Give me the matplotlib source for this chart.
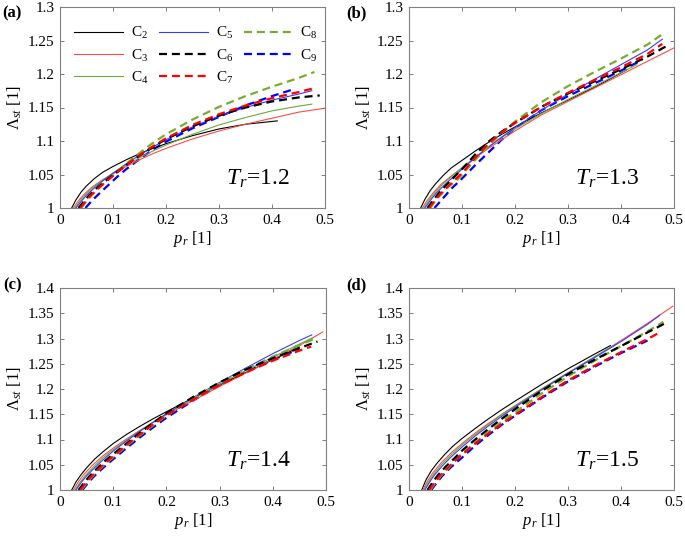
import numpy as np
import matplotlib
matplotlib.use('Agg')
import matplotlib.pyplot as plt
from matplotlib.ticker import FuncFormatter

plt.rcParams['font.family'] = ['Liberation Serif', 'DejaVu Serif']
plt.rcParams['mathtext.fontset'] = 'custom'
plt.rcParams['mathtext.rm'] = 'Liberation Serif'
plt.rcParams['mathtext.it'] = 'Liberation Serif:italic'

# ---- data: (p_r, Lambda_st) for each curve ----
names = ['C2', 'C3', 'C4', 'C5', 'C6', 'C7', 'C8', 'C9']
temps = ['1.2', '1.3', '1.4', '1.5']

# (a) Tr = 1.2
a_p = {
    'C2': [0.022, 0.03, 0.04, 0.05, 0.065, 0.08, 0.1, 0.125, 0.15, 0.175, 0.2, 0.25, 0.3, 0.35, 0.41],
    'C3': [0.025, 0.035, 0.045, 0.06, 0.08, 0.1, 0.125, 0.15, 0.175, 0.2, 0.25, 0.3, 0.35, 0.4, 0.45, 0.5],
    'C4': [0.028, 0.038, 0.048, 0.063, 0.08, 0.1, 0.125, 0.15, 0.175, 0.2, 0.25, 0.3, 0.35, 0.4, 0.45, 0.475],
    'C5': [0.03, 0.04, 0.05, 0.065, 0.08, 0.1, 0.125, 0.15, 0.175, 0.2, 0.25, 0.3, 0.35, 0.4, 0.45, 0.475],
    'C6': [0.035, 0.045, 0.055, 0.07, 0.085, 0.1, 0.125, 0.15, 0.175, 0.2, 0.25, 0.3, 0.35, 0.4, 0.45, 0.49],
    'C7': [0.038, 0.048, 0.058, 0.073, 0.088, 0.1, 0.125, 0.15, 0.175, 0.2, 0.25, 0.3, 0.35, 0.4, 0.45, 0.475],
    'C8': [0.04, 0.05, 0.06, 0.075, 0.09, 0.1, 0.125, 0.15, 0.175, 0.2, 0.25, 0.3, 0.35, 0.4, 0.45, 0.48],
    'C9': [0.048, 0.058, 0.068, 0.08, 0.095, 0.11, 0.125, 0.15, 0.175, 0.2, 0.25, 0.3, 0.35, 0.4, 0.44],
}
a_L = {
    'C2': [1.0, 1.012, 1.024, 1.033, 1.044, 1.053, 1.062, 1.072, 1.081, 1.089, 1.096, 1.108, 1.118, 1.125, 1.130],
    'C3': [1.0, 1.011, 1.020, 1.031, 1.042, 1.051, 1.062, 1.072, 1.081, 1.089, 1.103, 1.115, 1.125, 1.134, 1.143, 1.149],
    'C4': [1.0, 1.011, 1.020, 1.031, 1.041, 1.052, 1.064, 1.075, 1.085, 1.094, 1.110, 1.124, 1.135, 1.145, 1.152, 1.155],
    'C5': [1.0, 1.010, 1.019, 1.030, 1.040, 1.052, 1.066, 1.079, 1.091, 1.102, 1.121, 1.137, 1.150, 1.161, 1.170, 1.175],
    'C6': [1.0, 1.010, 1.019, 1.030, 1.040, 1.049, 1.064, 1.078, 1.091, 1.103, 1.122, 1.138, 1.150, 1.159, 1.165, 1.168],
    'C7': [1.0, 1.010, 1.019, 1.030, 1.040, 1.048, 1.064, 1.079, 1.092, 1.104, 1.124, 1.140, 1.153, 1.164, 1.173, 1.178],
    'C8': [1.0, 1.010, 1.019, 1.031, 1.042, 1.049, 1.066, 1.082, 1.097, 1.110, 1.132, 1.151, 1.167, 1.181, 1.194, 1.203],
    'C9': [1.0, 1.009, 1.017, 1.026, 1.037, 1.048, 1.058, 1.073, 1.087, 1.099, 1.119, 1.136, 1.153, 1.167, 1.177],
}

# (b) Tr = 1.3
b_p = {
    'C2': [0.022, 0.03, 0.04, 0.05, 0.065, 0.08, 0.1, 0.125, 0.15, 0.175, 0.2, 0.25, 0.3, 0.35, 0.41],
    'C3': [0.025, 0.035, 0.045, 0.06, 0.08, 0.1, 0.125, 0.15, 0.175, 0.2, 0.25, 0.3, 0.35, 0.4, 0.45, 0.5],
    'C4': [0.028, 0.038, 0.048, 0.063, 0.08, 0.1, 0.125, 0.15, 0.175, 0.2, 0.25, 0.3, 0.35, 0.43],
    'C5': [0.03, 0.04, 0.05, 0.065, 0.08, 0.1, 0.125, 0.15, 0.175, 0.2, 0.25, 0.3, 0.35, 0.4, 0.45, 0.478],
    'C6': [0.035, 0.045, 0.055, 0.07, 0.085, 0.1, 0.125, 0.15, 0.175, 0.2, 0.25, 0.3, 0.35, 0.4, 0.45, 0.489],
    'C7': [0.038, 0.048, 0.058, 0.073, 0.088, 0.1, 0.125, 0.15, 0.175, 0.2, 0.25, 0.3, 0.35, 0.4, 0.45, 0.478],
    'C8': [0.04, 0.05, 0.06, 0.075, 0.09, 0.1, 0.125, 0.15, 0.175, 0.2, 0.25, 0.3, 0.35, 0.4, 0.45, 0.483],
    'C9': [0.048, 0.058, 0.068, 0.08, 0.095, 0.11, 0.125, 0.15, 0.175, 0.2, 0.25, 0.3, 0.35, 0.4, 0.44],
}
b_L = {
    'C2': [1.0, 1.013, 1.026, 1.036, 1.049, 1.060, 1.071, 1.085, 1.098, 1.110, 1.121, 1.142, 1.161, 1.180, 1.206],
    'C3': [1.0, 1.012, 1.022, 1.035, 1.048, 1.060, 1.075, 1.089, 1.102, 1.115, 1.139, 1.159, 1.179, 1.199, 1.219, 1.239],
    'C4': [1.0, 1.012, 1.022, 1.035, 1.047, 1.060, 1.076, 1.091, 1.105, 1.118, 1.141, 1.162, 1.182, 1.214],
    'C5': [1.0, 1.011, 1.021, 1.033, 1.044, 1.058, 1.075, 1.091, 1.106, 1.120, 1.146, 1.170, 1.192, 1.214, 1.236, 1.252],
    'C6': [1.0, 1.011, 1.021, 1.034, 1.046, 1.058, 1.080, 1.099, 1.114, 1.127, 1.151, 1.171, 1.189, 1.207, 1.226, 1.243],
    'C7': [1.0, 1.011, 1.020, 1.032, 1.043, 1.052, 1.075, 1.096, 1.113, 1.127, 1.151, 1.172, 1.191, 1.210, 1.230, 1.245],
    'C8': [1.0, 1.011, 1.020, 1.032, 1.041, 1.050, 1.072, 1.093, 1.112, 1.129, 1.158, 1.182, 1.203, 1.223, 1.244, 1.262],
    'C9': [1.0, 1.009, 1.018, 1.029, 1.040, 1.052, 1.064, 1.083, 1.102, 1.119, 1.146, 1.167, 1.186, 1.205, 1.221],
}

# (c) Tr = 1.4
c_p = {
    'C2': [0.022, 0.03, 0.04, 0.05, 0.065, 0.08, 0.1, 0.125, 0.15, 0.175, 0.2, 0.25, 0.3, 0.35, 0.4, 0.45],
    'C3': [0.025, 0.035, 0.045, 0.06, 0.08, 0.1, 0.125, 0.15, 0.175, 0.2, 0.25, 0.3, 0.35, 0.4, 0.45, 0.494],
    'C4': [0.028, 0.038, 0.048, 0.063, 0.08, 0.1, 0.125, 0.15, 0.175, 0.2, 0.25, 0.3, 0.35, 0.4, 0.45, 0.476],
    'C5': [0.03, 0.04, 0.05, 0.065, 0.08, 0.1, 0.125, 0.15, 0.175, 0.2, 0.25, 0.3, 0.35, 0.4, 0.45, 0.473],
    'C6': [0.035, 0.045, 0.055, 0.07, 0.085, 0.1, 0.125, 0.15, 0.175, 0.2, 0.25, 0.3, 0.35, 0.4, 0.45, 0.484],
    'C7': [0.038, 0.048, 0.058, 0.073, 0.088, 0.1, 0.125, 0.15, 0.175, 0.2, 0.25, 0.3, 0.35, 0.4, 0.45, 0.472],
    'C8': [0.04, 0.05, 0.06, 0.075, 0.09, 0.1, 0.125, 0.15, 0.175, 0.2, 0.25, 0.3, 0.35, 0.4, 0.45, 0.48],
    'C9': [0.042, 0.052, 0.062, 0.077, 0.092, 0.1, 0.125, 0.15, 0.175, 0.2, 0.25, 0.3, 0.35, 0.4, 0.45],
}
c_L = {
    'C2': [1.0, 1.016, 1.031, 1.044, 1.061, 1.075, 1.092, 1.110, 1.126, 1.141, 1.155, 1.182, 1.208, 1.233, 1.258, 1.283],
    'C3': [1.0, 1.017, 1.031, 1.048, 1.067, 1.083, 1.101, 1.118, 1.134, 1.149, 1.177, 1.205, 1.232, 1.259, 1.286, 1.313],
    'C4': [1.0, 1.016, 1.029, 1.046, 1.063, 1.080, 1.099, 1.117, 1.134, 1.150, 1.180, 1.209, 1.237, 1.263, 1.289, 1.302],
    'C5': [1.0, 1.015, 1.028, 1.044, 1.059, 1.077, 1.097, 1.116, 1.134, 1.151, 1.183, 1.213, 1.242, 1.270, 1.296, 1.307],
    'C6': [1.0, 1.014, 1.027, 1.043, 1.058, 1.071, 1.092, 1.113, 1.133, 1.152, 1.184, 1.213, 1.239, 1.261, 1.281, 1.294],
    'C7': [1.0, 1.014, 1.026, 1.042, 1.056, 1.067, 1.089, 1.110, 1.130, 1.148, 1.179, 1.208, 1.233, 1.256, 1.276, 1.284],
    'C8': [1.0, 1.014, 1.026, 1.042, 1.056, 1.065, 1.087, 1.108, 1.128, 1.147, 1.181, 1.212, 1.239, 1.264, 1.287, 1.300],
    'C9': [1.0, 1.013, 1.025, 1.040, 1.054, 1.061, 1.083, 1.104, 1.124, 1.143, 1.177, 1.208, 1.234, 1.258, 1.279],
}

# (d) Tr = 1.5
d_p = {
    'C2': [0.024, 0.032, 0.042, 0.052, 0.067, 0.082, 0.1, 0.125, 0.15, 0.175, 0.2, 0.25, 0.3, 0.35, 0.38],
    'C3': [0.026, 0.035, 0.045, 0.06, 0.08, 0.1, 0.125, 0.15, 0.175, 0.2, 0.25, 0.3, 0.35, 0.4, 0.45, 0.498],
    'C4': [0.028, 0.037, 0.047, 0.062, 0.08, 0.1, 0.125, 0.15, 0.175, 0.2, 0.25, 0.3, 0.35, 0.39],
    'C5': [0.03, 0.039, 0.049, 0.064, 0.08, 0.1, 0.125, 0.15, 0.175, 0.2, 0.25, 0.3, 0.35, 0.4, 0.45, 0.473],
    'C6': [0.035, 0.045, 0.055, 0.07, 0.085, 0.1, 0.125, 0.15, 0.175, 0.2, 0.25, 0.3, 0.35, 0.4, 0.45, 0.483],
    'C7': [0.038, 0.048, 0.058, 0.073, 0.088, 0.1, 0.125, 0.15, 0.175, 0.2, 0.25, 0.3, 0.35, 0.4, 0.45, 0.475],
    'C8': [0.04, 0.05, 0.06, 0.075, 0.09, 0.1, 0.125, 0.15, 0.175, 0.2, 0.25, 0.3, 0.35, 0.4, 0.45, 0.48],
    'C9': [0.042, 0.052, 0.062, 0.077, 0.092, 0.1, 0.125, 0.15, 0.175, 0.2, 0.25, 0.3, 0.35, 0.4, 0.45],
}
d_L = {
    'C2': [1.0, 1.020, 1.038, 1.052, 1.070, 1.086, 1.102, 1.122, 1.141, 1.159, 1.176, 1.209, 1.240, 1.269, 1.286],
    'C3': [1.0, 1.018, 1.034, 1.053, 1.074, 1.092, 1.113, 1.132, 1.150, 1.167, 1.200, 1.232, 1.263, 1.296, 1.330, 1.364],
    'C4': [1.0, 1.017, 1.032, 1.051, 1.070, 1.089, 1.110, 1.130, 1.149, 1.166, 1.200, 1.232, 1.264, 1.289],
    'C5': [1.0, 1.016, 1.031, 1.049, 1.066, 1.085, 1.107, 1.127, 1.146, 1.164, 1.198, 1.231, 1.262, 1.294, 1.328, 1.346],
    'C6': [1.0, 1.016, 1.030, 1.047, 1.062, 1.078, 1.100, 1.121, 1.141, 1.160, 1.196, 1.229, 1.258, 1.285, 1.312, 1.330],
    'C7': [1.0, 1.015, 1.028, 1.044, 1.059, 1.070, 1.092, 1.112, 1.131, 1.149, 1.184, 1.217, 1.246, 1.273, 1.299, 1.313],
    'C8': [1.0, 1.015, 1.028, 1.044, 1.062, 1.072, 1.094, 1.115, 1.135, 1.154, 1.191, 1.225, 1.256, 1.285, 1.314, 1.333],
    'C9': [1.0, 1.014, 1.027, 1.043, 1.057, 1.064, 1.088, 1.109, 1.129, 1.147, 1.182, 1.215, 1.244, 1.271, 1.296],
}

panels = [(a_p, a_L), (b_p, b_L), (c_p, c_L), (d_p, d_L)]

# styles
colors = {'C2': 'k', 'C3': '#ff4a4a', 'C4': '#6aab3a', 'C5': '#3a3aff',
          'C6': 'k', 'C7': '#ff0000', 'C8': '#77ac30', 'C9': '#0000ff'}
dashed = {'C2': False, 'C3': False, 'C4': False, 'C5': False,
          'C6': True, 'C7': True, 'C8': True, 'C9': True}
# draw order
order = ['C9', 'C2', 'C3', 'C4', 'C5', 'C8', 'C6', 'C7']

fig = plt.figure(figsize=(6.85, 5.38), dpi=100)
W, H = 685.0, 538.0
boxes = [(60, 7, 325, 208), (409, 7, 674, 208), (60, 288, 326, 490), (409, 288, 674, 490)]
ylims = [(1, 1.3), (1, 1.3), (1, 1.4), (1, 1.4)]
tags = ['(a)', '(b)', '(c)', '(d)']
tag_xy = [(2, 13), (346, 13), (3, 285), (346, 285)]
fmt = FuncFormatter(lambda v, pos: '%g' % round(v, 3))

for k, (pp, LL) in enumerate(panels):
    l, t, r, b = boxes[k]
    ax = fig.add_axes([l / W, 1 - b / H, (r - l) / W, (b - t) / H])
    lines = {}
    for nm in order:
        if dashed[nm]:
            ln, = ax.plot(pp[nm], LL[nm], color=colors[nm], lw=1.6, dashes=(3.6, 2.2))
        else:
            ln, = ax.plot(pp[nm], LL[nm], color=colors[nm], lw=0.8)
        lines[nm] = ln
    ax.set_xlim(0, 0.5)
    ax.set_ylim(*ylims[k])
    ax.set_xticks(np.arange(0, 0.51, 0.1))
    ax.set_yticks(np.arange(ylims[k][0], ylims[k][1] + 0.001, 0.05))
    ax.xaxis.set_major_formatter(fmt)
    ax.yaxis.set_major_formatter(fmt)
    ax.tick_params(direction='in', length=3, width=0.6, labelsize=11,
                   top=True, right=True, colors='#666666', labelcolor='k', pad=4)
    for s in ax.spines.values():
        s.set_color('#808080')
        s.set_linewidth(0.8)
    ax.set_xlabel(r'$p_r$ [1]', fontsize=12, labelpad=2)
    ax.set_ylabel(r'$\mathit{\Lambda}_{st}$ [1]', fontsize=12, labelpad=3)
    ax.text(0.625, 0.115, r'$T_r$=' + temps[k], transform=ax.transAxes,
            fontsize=17, va='baseline', ha='left')
    fig.text(tag_xy[k][0] / W, 1 - tag_xy[k][1] / H, tags[k], fontsize=12,
             fontweight='bold', va='center', ha='left')
    if k == 0:
        hs = [lines[n] for n in names]
        labs = [r'C$_{%s}$' % n[1] for n in names]
        ax.legend(hs, labs, ncol=3, frameon=False, loc='upper left', fontsize=11,
                  handlelength=3.2, handletextpad=0.5, columnspacing=0.7,
                  labelspacing=0.4, borderaxespad=0.2, bbox_to_anchor=(0.02, 0.955))

fig.savefig('out.png', dpi=100)
